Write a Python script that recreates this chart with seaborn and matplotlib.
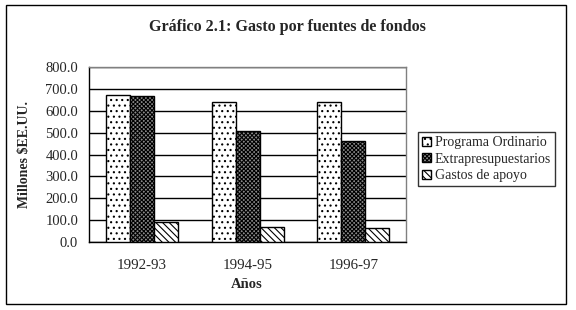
import matplotlib
matplotlib.use("Agg")
import matplotlib.pyplot as plt
import seaborn as sns
import pandas as pd
import numpy as np
from matplotlib.patches import Rectangle, Patch

years = ["1992-93", "1994-95", "1996-97"]
series = ["Programa Ordinario", "Extrapresupuestarios", "Gastos de apoyo"]
programa = [671.0, 642.0, 642.0]
extra = [667.0, 509.0, 460.0]
apoyo = [92.0, 69.0, 64.0]
yticks = [0, 100, 200, 300, 400, 500, 600, 700, 800]

rows = []
for i, y in enumerate(years):
    rows.append((y, series[0], programa[i]))
    rows.append((y, series[1], extra[i]))
    rows.append((y, series[2], apoyo[i]))
df = pd.DataFrame(rows, columns=["Año", "Serie", "Valor"])

sns.set_style("white")
plt.rcParams['font.family'] = ['Liberation Serif', 'DejaVu Serif']
plt.rcParams['hatch.linewidth'] = 0.8

fig = plt.figure(figsize=(5.76, 3.10), dpi=100)
W, H = 576, 310
ax = fig.add_axes([89.3 / W, 1 - 242 / H, (406 - 89.3) / W, (242 - 67) / H])

sns.barplot(data=df, x="Año", y="Valor", hue="Serie", hue_order=series,
            order=years, width=0.68, ax=ax, legend=False,
            palette=["white", "white", "white"], edgecolor="black",
            linewidth=1.0, saturation=1)

hatches = {series[0]: "...", series[1]: "xxxxxxxx", series[2]: "\\\\\\\\\\"}
faces = {series[0]: "white", series[1]: "#8a8a8a", series[2]: "white"}
for cont, s in zip(ax.containers, series):
    for p in cont.patches:
        p.set_hatch(hatches[s])
        p.set_facecolor(faces[s])
        p.set_edgecolor("black")
        p.set_zorder(3)

ax.set_ylim(0, 800)
ax.set_xlim(-0.5, 2.5)
ax.set_yticks(yticks)
ax.set_yticklabels([f"{v:.1f}" for v in yticks], fontsize=10.5)
ax.yaxis.grid(True, color="black", linewidth=1.0, zorder=0)
ax.set_axisbelow(True)

ax.set_xticks([0, 1, 2])
ax.set_xticklabels(years, fontsize=10.8)
ax.tick_params(axis="x", which="major", length=0, pad=12)
ax.set_xticks([-0.5, 0.5, 1.5, 2.5], minor=True)
ax.tick_params(axis="x", which="minor", length=5, direction="out", color="black", width=1)
ax.tick_params(axis="y", which="major", length=5, direction="out", color="black", width=1, pad=3)

for sp in ["top", "right"]:
    ax.spines[sp].set_color("#808080")
    ax.spines[sp].set_linewidth(1.0)
for sp in ["left", "bottom"]:
    ax.spines[sp].set_color("black")
    ax.spines[sp].set_linewidth(1.0)

ax.set_xlabel("")
ax.set_ylabel("")
fig.text(25 / W, 1 - 154 / H, "Millones $EE.UU.", rotation=90, ha="center", va="center",
         fontsize=10, fontweight="bold")
fig.text(247 / W, 1 - 285 / H, "Años", ha="center", va="center", fontsize=10.5, fontweight="bold")
fig.text(287 / W, 1 - 27 / H, "Gráfico 2.1: Gasto por fuentes de fondos", ha="center",
         va="center", fontsize=11.6, fontweight="bold")

handles = [Patch(facecolor=faces[s], edgecolor="black", hatch=hatches[s], label=s) for s in series]
leg = fig.legend(handles=handles, loc="upper left",
                 bbox_to_anchor=(418 / W, 1 - 132 / H), fontsize=10, frameon=True,
                 fancybox=False, edgecolor="black", handlelength=0.6, handleheight=0.6,
                 handletextpad=0.3, labelspacing=0.25, borderpad=0.3, borderaxespad=0)
leg.get_frame().set_linewidth(1.0)

fig.patches.append(Rectangle((6 / W, 1 - 304 / H), (566 - 6) / W, (304 - 5) / H,
                             transform=fig.transFigure, fill=False, edgecolor="black",
                             linewidth=1.0))

fig.savefig("out.png", dpi=100, facecolor="white")
